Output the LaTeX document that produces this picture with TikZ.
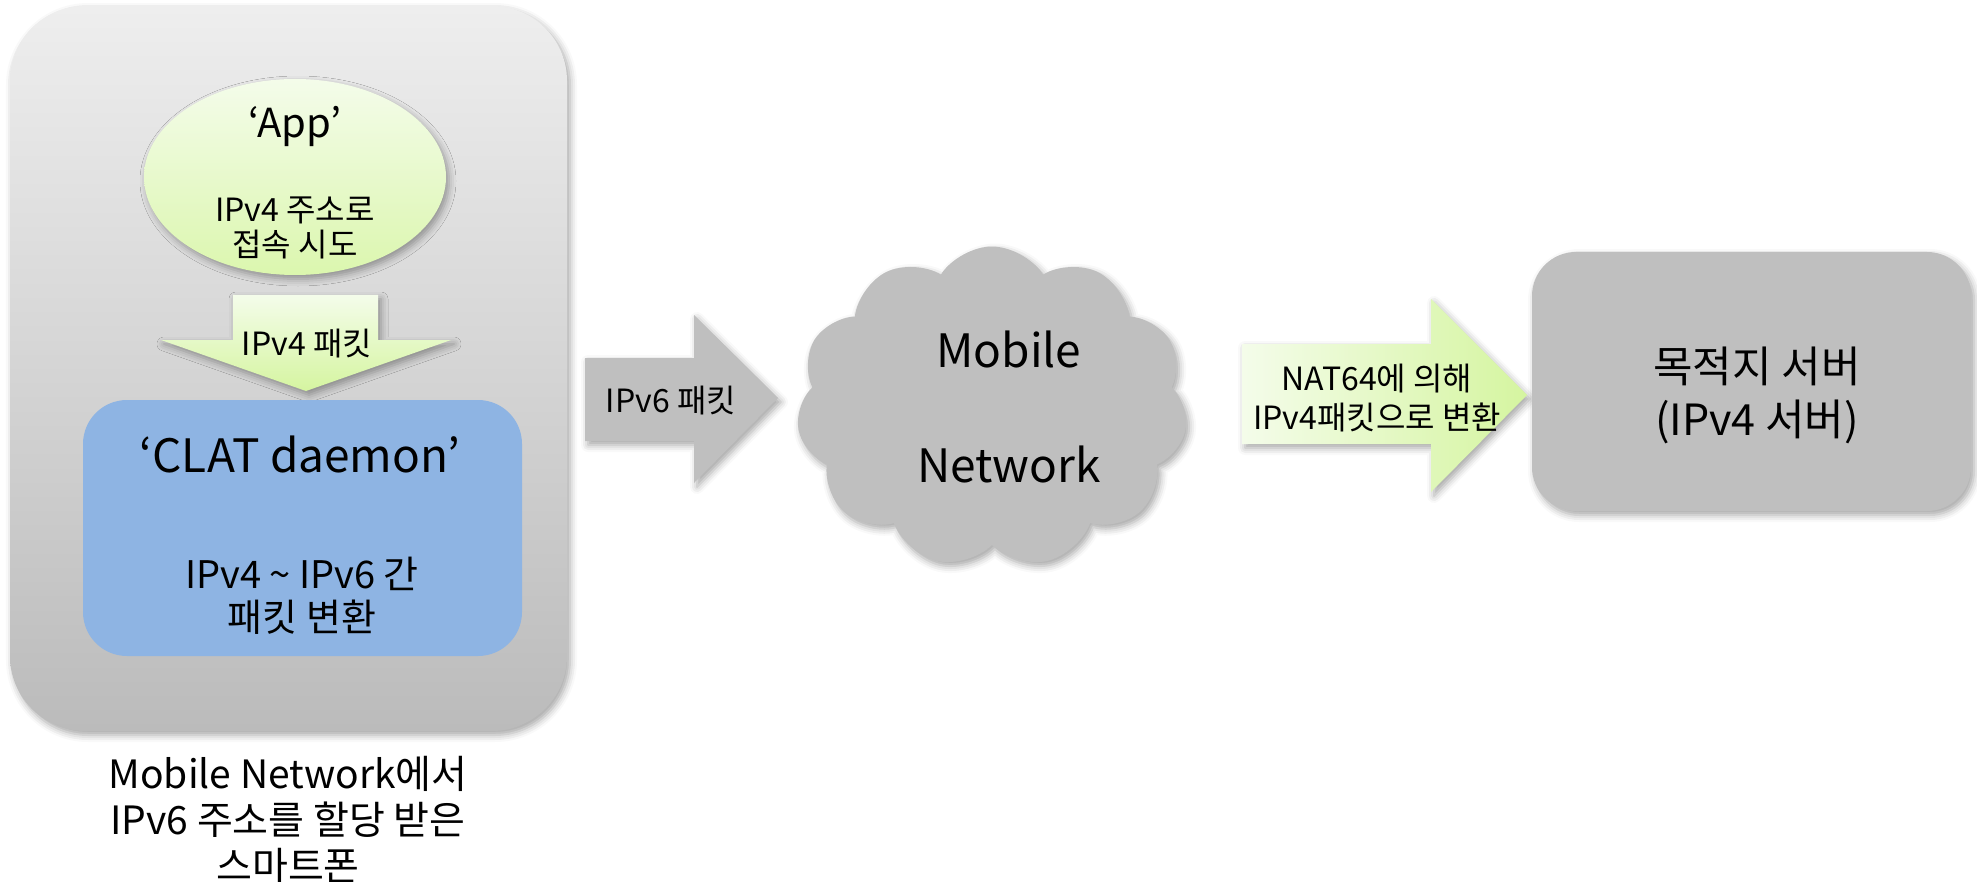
\documentclass[tikz,border=0pt]{standalone}
\usepackage{fontspec}
\setmainfont{Noto Sans CJK KR}
\usetikzlibrary{shapes.geometric,shapes.symbols,shadows.blur}
\definecolor{boxgray}{HTML}{BFBFBF}
\definecolor{clatblue}{HTML}{8EB4E3}
\definecolor{palegreen}{HTML}{F4FCEA}
\definecolor{limegreen}{HTML}{D5F5A0}
\definecolor{phonetop}{HTML}{EEEEEE}
\definecolor{phonebot}{HTML}{BBBBBB}
\newcommand{\fs}[2]{\fontsize{#1}{#2}\selectfont}
\begin{document}
\begin{tikzpicture}[x=1pt,y=-1pt,
  softshadow/.style={blur shadow={shadow xshift=3pt,shadow yshift=-4pt,
      shadow blur radius=7pt,shadow opacity=35}},
  label/.style={inner sep=0pt,align=center,text=black}]
\useasboundingbox (0,0) rectangle (1977,882);

% smartphone frame
\node[softshadow,rounded corners=75pt,top color=phonetop,bottom color=phonebot,
      minimum width=557pt,minimum height=725pt,inner sep=0pt] (phone) at (288.5,368.5) {};

% application bubble
\node[softshadow,ellipse,top color=palegreen,bottom color=limegreen!85,
      minimum width=302pt,minimum height=196pt,inner sep=0pt] (app) at (295,177) {};
\node[label,font=\fs{40}{46}] (apptitle) at (295,126) {‘App’};
\node[label,font=\fs{32}{35}] (appsub) at (295,228) {IPv4 주소로\\접속 시도};

% IPv4 packet arrow (downwards)
\path[softshadow,top color=palegreen,bottom color=limegreen]
  (233,295) -- (378,295) -- (378,340) -- (451,340) -- (306,391) -- (161,340) -- (233,340) -- cycle;
\node[label,font=\fs{32}{35}] (v4pkt) at (307,344) {IPv4 패킷};

% CLAT daemon box
\node[rounded corners=44pt,fill=clatblue,minimum width=439pt,minimum height=256pt,
      inner sep=0pt] (clat) at (302.5,528) {};
\node[label,font=\fs{46}{50}] (clattitle) at (300,454) {‘CLAT daemon’};
\node[label,font=\fs{38}{43}] (clatsub) at (302,596) {IPv4 \textasciitilde{} IPv6 간\\패킷 변환};

% caption below the phone
\node[label,font=\fs{39}{46}] (caption) at (288,820)
  {Mobile Network에서\\IPv6 주소를 할당 받은\\스마트폰};

% IPv6 packet arrow
\path[softshadow,fill=boxgray]
  (585,358) -- (694,358) -- (694,315) -- (778,398) -- (694,483) -- (694,441) -- (585,441) -- cycle;
\node[label,font=\fs{32}{35}] (v6pkt) at (671,401) {IPv6 패킷};

% mobile network cloud
\node[softshadow,cloud,cloud puffs=11,cloud puff arc=115,aspect=1.2,fill=boxgray,
      minimum width=391pt,minimum height=321pt,inner sep=0pt] (cloud) at (992,407) {};
\node[label,font=\fs{46}{52}] (mob) at (1009,349) {Mobile};
\node[label,font=\fs{46}{52}] (net) at (1009,464) {Network};

% NAT64 arrow
\path[softshadow,left color=palegreen,right color=limegreen]
  (1242,344) -- (1431,344) -- (1431,299) -- (1527,395) -- (1431,492) -- (1431,444) -- (1242,444) -- cycle;
\node[label,font=\fs{32}{39}] (nat) at (1377,398) {NAT64에 의해\\IPv4패킷으로 변환};

% destination server
\node[softshadow,rounded corners=44pt,fill=boxgray,minimum width=439pt,minimum height=259pt,
      inner sep=0pt] (server) at (1751.5,381.5) {};
\node[label,font=\fs{43}{53}] (srvtext) at (1757,395) {목적지 서버\\(IPv4 서버)};
\end{tikzpicture}
\end{document}
